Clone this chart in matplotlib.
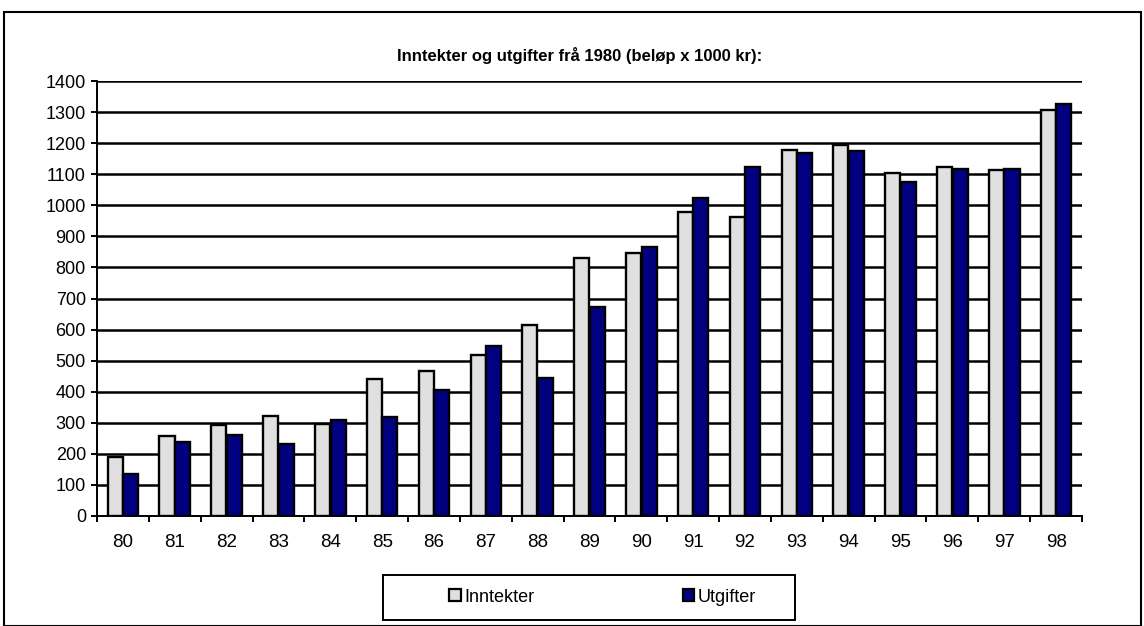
import matplotlib
matplotlib.use("Agg")
import matplotlib.pyplot as plt
from matplotlib.patches import Rectangle
import numpy as np

years = ["80", "81", "82", "83", "84", "85", "86", "87", "88", "89",
         "90", "91", "92", "93", "94", "95", "96", "97", "98"]
inntekter = [190, 258, 292, 322, 295, 440, 468, 518, 615, 830,
             845, 980, 962, 1178, 1195, 1103, 1124, 1112, 1307]
utgifter = [135, 237, 262, 232, 308, 318, 405, 548, 443, 672,
            867, 1022, 1123, 1168, 1174, 1074, 1117, 1117, 1327]
yticks = list(range(0, 1401, 100))
title = "Inntekter og utgifter frå 1980 (beløp x 1000 kr):"

plt.rcParams['font.family'] = ['Liberation Sans', 'DejaVu Sans']

W, H = 1144, 626
fig = plt.figure(figsize=(W / 100, H / 100), dpi=100)
ax = fig.add_axes([97 / W, 1 - 516 / H, (1082 - 97) / W, (516 - 81) / H])

x = np.arange(len(years))
bw = 0.29
ax.bar(x - 0.15, inntekter, bw, color="#E0E0E0", edgecolor="black", linewidth=1.7,
       label="Inntekter", zorder=3)
ax.bar(x + 0.15, utgifter, bw, color="#000080", edgecolor="black", linewidth=1.7,
       label="Utgifter", zorder=3)

ax.set_xlim(-0.5, len(years) - 0.5)
ax.set_ylim(0, 1400)
ax.set_yticks(yticks)
ax.set_yticklabels([str(v) for v in yticks], fontsize=13)
ax.yaxis.grid(True, color="black", linewidth=1.8, zorder=0)
ax.set_axisbelow(True)

ax.set_xticks(x)
ax.set_xticklabels(years, fontsize=13.5)
ax.set_xticks(np.arange(-0.5, len(years), 1), minor=True)
ax.tick_params(axis="x", which="major", length=0, pad=13)
ax.tick_params(axis="x", which="minor", length=4, width=1.4, direction="out")
ax.tick_params(axis="y", length=4, width=1.4, direction="out", pad=4)

for s in ["top", "right"]:
    ax.spines[s].set_visible(False)
ax.spines["left"].set_linewidth(1.4)
ax.spines["bottom"].set_linewidth(1.4)

fig.text(580 / W, 1 - 55 / H, title, ha="center", va="center",
         fontsize=12, fontweight="bold")

# legend frame
fig.patches.append(Rectangle((383 / W, 1 - 620 / H), (795 - 383) / W, (620 - 575) / H,
                             transform=fig.transFigure, fill=False,
                             edgecolor="black", linewidth=1.4, zorder=5))
handles, labels = ax.get_legend_handles_labels()
leg = fig.legend(handles, labels, loc="center left",
                 bbox_to_anchor=(440 / W, 1 - 597 / H), ncol=2,
                 frameon=False, fontsize=13,
                 handlelength=0.65, handleheight=0.65, columnspacing=8.2,
                 borderpad=0.0, handletextpad=0.2)
for p in leg.legend_handles:
    p.set_linewidth(1.6)

fig.patches.append(Rectangle((4 / W, 0), (1141 - 4) / W, 1 - 12 / H, transform=fig.transFigure,
                             fill=False, edgecolor="black", linewidth=1.5))

fig.savefig("out.png", dpi=100)
